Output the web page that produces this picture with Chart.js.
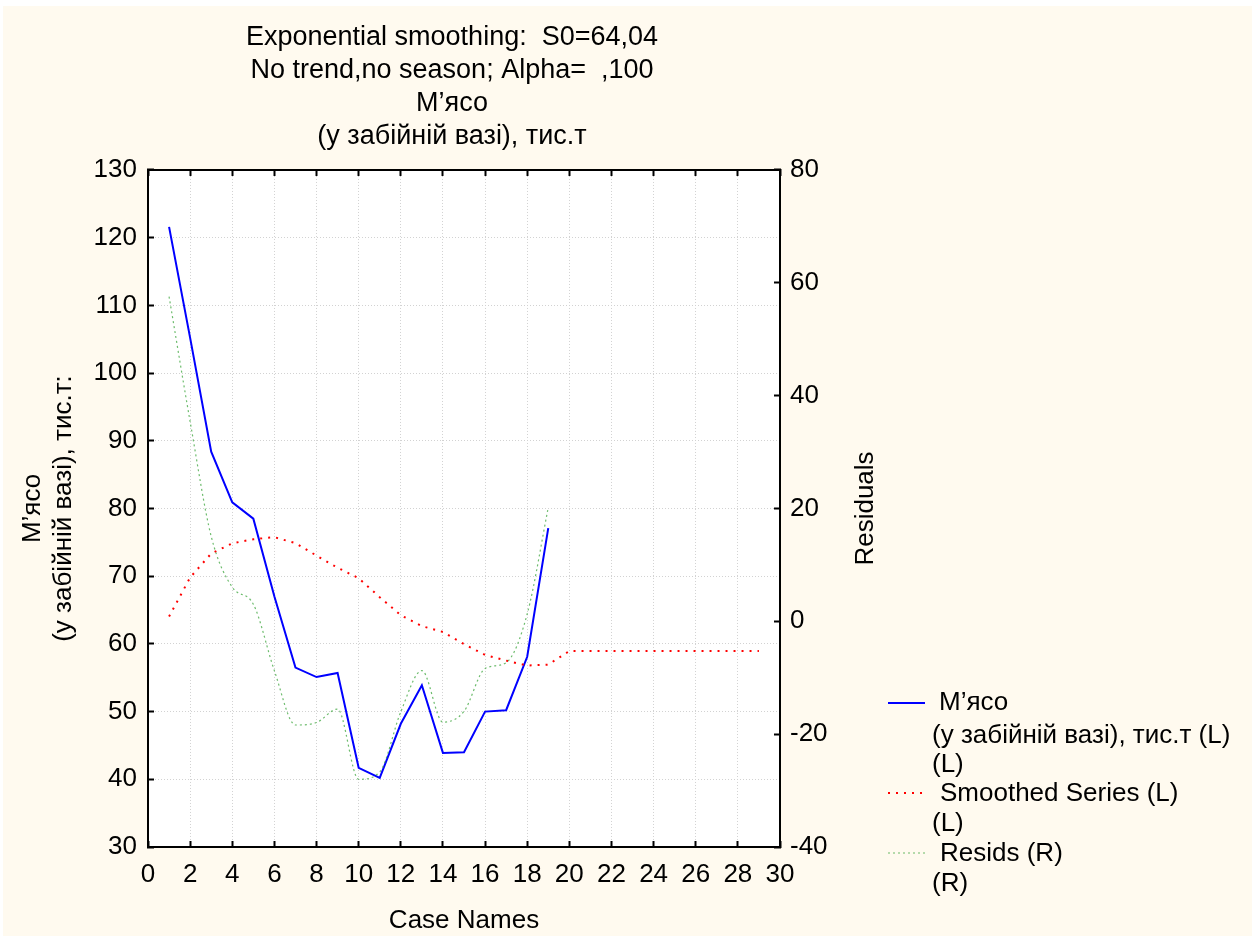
<!DOCTYPE html>
<html>
<head>
<meta charset="utf-8">
<script src="https://cdn.jsdelivr.net/npm/chart.js@4/dist/chart.umd.min.js"></script>
<style>
  body { margin: 0; background: #fff; }
  canvas { display: block; }
</style>
</head>
<body>
<canvas id="smoothChart" width="1257" height="937"></canvas>
<script>
// case numbers (x axis)
const caseNo = [1, 2, 3, 4, 5, 6, 7, 8, 9, 10, 11, 12, 13, 14, 15, 16, 17, 18, 19, 20,
  21, 22, 23, 24, 25, 26, 27, 28, 29];

// М'ясо (у забійній вазі), тис.т  - left axis
const meat = [121.6, 105.2, 88.4, 80.9, 78.5, 67.0, 56.5, 55.1, 55.7, 41.7,
  40.2, 48.2, 53.9, 43.9, 44.0, 50.0, 50.2, 58.1, 77.1];

// Smoothed Series - left axis
const smoothed = [64.04, 69.80, 73.34, 74.85, 75.46, 75.76, 74.88, 73.04, 71.25, 69.70,
  66.90, 64.23, 62.63, 61.76, 59.97, 58.37, 57.53, 56.80, 56.93, 58.95,
  58.95, 58.95, 58.95, 58.95, 58.95, 58.95, 58.95, 58.95, 58.95];

// Resids - right axis
const resids = [57.56, 35.40, 15.06, 6.05, 3.04, -8.76, -18.38, -17.94, -15.55, -28.00,
  -26.70, -16.03, -8.73, -17.86, -15.97, -8.37, -7.33, 1.30, 20.17];

const titleLines = ['Exponential smoothing:  S0=64,04', 'No trend,no season; Alpha=  ,100',
  'М’ясо', '(у забійній вазі), тис.т'];
const leftTitle = ['М’ясо', '(у забійній вазі), тис.т:'];
const rightTitle = 'Residuals';

const FONT = "'Liberation Sans', Arial, sans-serif";
Chart.defaults.font.family = FONT;
Chart.defaults.color = '#000';

const pts = (vals) => vals.map((v, i) => ({ x: caseNo[i], y: v }));

const blue = '#0000ff';
const red = '#ff0000';
const green = 'rgba(60,165,60,0.75)';

// cream page + white plot area
const background = {
  id: 'background',
  beforeDraw(chart) {
    const { ctx, chartArea: a } = chart;
    ctx.save();
    ctx.fillStyle = '#fff';
    ctx.fillRect(0, 0, chart.width, chart.height);
    ctx.fillStyle = '#fffaef';
    ctx.fillRect(3, 6, 1249, 930);
    ctx.fillStyle = '#fff';
    ctx.fillRect(a.left, a.top, a.right - a.left, a.bottom - a.top);
    ctx.restore();
  }
};

// legend in STATISTICA style (multi-line labels) + right axis title read bottom-up
const sideLegend = {
  id: 'sideLegend',
  afterDraw(chart) {
    const ctx = chart.ctx;
    const a = chart.chartArea;
    ctx.save();
    const sample = (y, color, width, dash) => {
      ctx.strokeStyle = color;
      ctx.lineWidth = width;
      ctx.setLineDash(dash);
      ctx.beginPath();
      ctx.moveTo(888, y);
      ctx.lineTo(925, y);
      ctx.stroke();
    };
    sample(703, blue, 2, []);
    sample(793, red, 2, [2, 6]);
    sample(853, green, 1.2, [2, 3]);
    ctx.setLineDash([]);
    ctx.fillStyle = '#000';
    ctx.font = '26px ' + FONT;
    ctx.textBaseline = 'middle';
    ctx.textAlign = 'left';
    const rows = [
      ['М’ясо', 939, 703],
      ['(у забійній вазі), тис.т (L)', 932, 736],
      ['(L)', 932, 765],
      ['Smoothed Series (L)', 940, 794],
      ['(L)', 932, 824],
      ['Resids (R)', 940, 854],
      ['(R)', 932, 884]
    ];
    rows.forEach(r => ctx.fillText(r[0], r[1], r[2]));

    ctx.translate(866, (a.top + a.bottom) / 2);
    ctx.rotate(-Math.PI / 2);
    ctx.textAlign = 'center';
    ctx.fillText(rightTitle, 0, 0);
    ctx.restore();
  }
};

const inwardGrid = (onArea) => ({
  drawOnChartArea: onArea,
  color: '#d2d2d2',
  lineWidth: 1,
  drawTicks: true,
  tickLength: -6,
  tickColor: '#000',
  tickWidth: 2,
  tickBorderDash: []
});

const border = { color: '#000', width: 2, dash: [1, 2] };

const chart = new Chart(document.getElementById('smoothChart'), {
  type: 'line',
  data: {
    datasets: [{
      label: 'Resids (R)',
      data: pts(resids),
      yAxisID: 'y1',
      borderColor: green,
      borderWidth: 1.2,
      borderDash: [2, 3],
      cubicInterpolationMode: 'monotone',
      pointRadius: 0
    }, {
      label: 'Smoothed Series (L)',
      data: pts(smoothed),
      yAxisID: 'y',
      borderColor: red,
      borderWidth: 2,
      borderDash: [2, 6],
      tension: 0,
      pointRadius: 0
    }, {
      label: 'М’ясо (у забійній вазі), тис.т (L)',
      data: pts(meat),
      yAxisID: 'y',
      borderColor: blue,
      borderWidth: 2,
      tension: 0,
      pointRadius: 0
    }]
  },
  options: {
    responsive: false,
    animation: false,
    devicePixelRatio: 1,
    layout: { padding: { left: 17, right: 370, top: 0, bottom: 0 } },
    plugins: {
      legend: { display: false },
      tooltip: { enabled: false },
      title: {
        display: true,
        text: titleLines,
        color: '#000',
        font: { size: 27, weight: 'normal', lineHeight: 1.222 },
        padding: { top: 21.5, bottom: 16.5 }
      }
    },
    scales: {
      x: {
        type: 'linear',
        position: 'bottom',
        min: 0,
        max: 30,
        ticks: { stepSize: 2, autoSkip: false, maxRotation: 0, padding: 18, font: { size: 26 } },
        grid: inwardGrid(true),
        border: border,
        title: { display: true, text: 'Case Names', font: { size: 26 }, padding: { top: 0, bottom: 1 } },
        afterFit: s => { s.height = 90; }
      },
      x2: {
        type: 'linear',
        axis: 'x',
        position: 'top',
        min: 0,
        max: 30,
        ticks: { stepSize: 2, display: false },
        grid: inwardGrid(false),
        border: border,
        afterFit: s => { s.height = 0; }
      },
      y: {
        type: 'linear',
        position: 'left',
        min: 30,
        max: 130,
        ticks: { stepSize: 10, padding: 17, font: { size: 26 } },
        grid: inwardGrid(true),
        border: border,
        title: { display: true, text: leftTitle, font: { size: 26, lineHeight: 1.2 }, padding: 0 },
        afterFit: s => { s.width = 131; }
      },
      y1: {
        type: 'linear',
        position: 'right',
        min: -40,
        max: 80,
        ticks: { stepSize: 20, padding: 16, font: { size: 26 } },
        grid: inwardGrid(false),
        border: border,
        title: { display: false },
        afterFit: s => { s.width = 107; }
      }
    }
  },
  plugins: [background, sideLegend]
});
</script>
</body>
</html>
